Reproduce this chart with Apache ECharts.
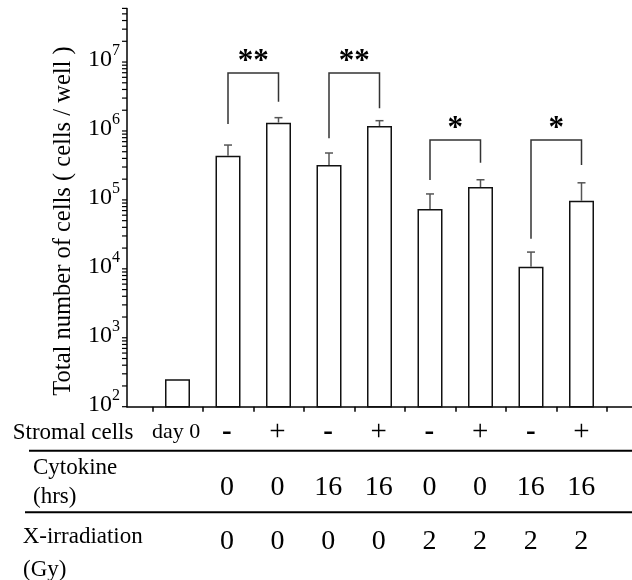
<!DOCTYPE html>
<html>
<head>
<meta charset="utf-8">
<script src="https://cdn.jsdelivr.net/npm/echarts@6/dist/echarts.min.js"></script>
<style>html,body{margin:0;padding:0;background:#fff}#c{width:632px;height:580px}</style>
</head>
<body>
<div id="c"></div>
<script>
// ---- data ----
const stromalCells   = ['day 0', '-', '+', '-', '+', '-', '+', '-', '+'];
const cytokineHrs    = ['', '0', '0', '16', '16', '0', '0', '16', '16'];
const xIrradiationGy = ['', '0', '0', '0', '0', '2', '2', '2', '2'];
const cellCounts     = [250, 4.38e5, 1.32e6, 3.2e5, 1.18e6, 7.38e4, 1.54e5, 1.07e4, 9.73e4];
const errorUpper     = [null, 6.25e5, 1.56e6, 4.79e5, 1.41e6, 1.22e5, 1.96e5, 1.75e4, 1.77e5];
const yTickLabels    = [1e2, 1e3, 1e4, 1e5, 1e6, 1e7];
const yMin = 100, yMax = 6e7;
const xMajorTicks    = [0.5, 1.5, 2.5, 3.5, 4.5, 5.5, 6.5, 7.5, 8.5, 9.5];
const xBarPositions  = [1, 2, 3, 4, 5, 6, 7, 8, 9];
// significance brackets
const bracketLeftBar     = [2, 4, 6, 8];
const bracketRightBar    = [3, 5, 7, 9];
const bracketLeftBottom  = [1.26e6, 7.82e5, 1.94e5, 2.74e4];
const bracketRightBottom = [2.66e6, 2.13e6, 3.46e5, 3.2e5];
const bracketTop         = [6.92e6, 6.92e6, 7.39e5, 7.39e5];
const bracketLabels      = ['**', '**', '*', '*'];

// ---- derived ----
const yMinorTicks = [];
for (let k = 2; k <= 7; k++) for (let m = 1; m <= 9; m++) {
  const v = m * Math.pow(10, k);
  if (v >= yMin && v <= yMax * 1.0001) yMinorTicks.push([0, v]);
}
const barData = cellCounts.map((v, i) => [xBarPositions[i], v]);
const errData = [];
errorUpper.forEach((e, i) => { if (e != null) errData.push([xBarPositions[i], cellCounts[i], e]); });
const bracketData = bracketLeftBar.map((l, i) => [l, bracketRightBar[i], bracketLeftBottom[i], bracketRightBottom[i], bracketTop[i], i]);

const SERIF = '"Liberation Serif","Times New Roman",serif';
const chart = echarts.init(document.getElementById('c'), null, {renderer: 'canvas'});

function tableAxis(labels, margin, rich) {
  return {
    gridIndex: 1, type: 'value', min: 0, max: 10, position: 'bottom', offset: 0,
    axisLine: {show: false}, axisTick: {show: false}, splitLine: {show: false},
    axisLabel: {
      customValues: xBarPositions, margin: margin, verticalAlign: 'middle',
      color: '#000', fontFamily: SERIF, fontSize: 28,
      formatter: function (v) {
        const s = labels[Math.round(v) - 1];
        if (!s) return '';
        if (rich) return s === 'day 0' ? '{d|day 0}' : (s === '-' ? '{m|-}' : '{p|' + s + '}');
        return s;
      },
      rich: rich || undefined
    }
  };
}

const option = {
  animation: false,
  backgroundColor: '#fff',
  grid: [
    {left: 127, top: 8.4, width: 508, height: 398.3, containLabel: false},
    {left: 125.6, top: 8.4, width: 517, height: 398.3, containLabel: false}
  ],
  xAxis: [
    {
      gridIndex: 0, type: 'value', min: 0, max: 10, position: 'bottom',
      axisLine: {lineStyle: {color: '#000', width: 1.5}},
      axisTick: {customValues: xMajorTicks, length: 5, lineStyle: {color: '#000', width: 1.5}},
      axisLabel: {show: false}, splitLine: {show: false}
    },
    {
      gridIndex: 0, type: 'value', min: 0, max: 10, position: 'bottom', offset: 0,
      axisLine: {show: false},
      axisTick: {customValues: xBarPositions, inside: true, length: 2, lineStyle: {color: '#777', width: 1}},
      axisLabel: {show: false}, splitLine: {show: false}
    },
    tableAxis(stromalCells, 26, {
      d: {fontFamily: SERIF, fontSize: 22, color: '#000'},
      p: {fontFamily: SERIF, fontSize: 29, color: '#000'},
      m: {fontFamily: SERIF, fontSize: 29, fontWeight: 'bold', color: '#000'}
    }),
    tableAxis(cytokineHrs, 80.6),
    tableAxis(xIrradiationGy, 135)
  ],
  yAxis: [
    {
      gridIndex: 0, type: 'log', logBase: 10, min: yMin, max: yMax,
      axisLine: {lineStyle: {color: '#000', width: 1.5}},
      axisTick: {show: false}, splitLine: {show: false}, minorTick: {show: false},
      axisLabel: {
        margin: 7, color: '#000', verticalAlign: 'middle', padding: [0, 0, 4, 0],
        formatter: function (v) {
          const e = Math.log10(v);
          if (Math.abs(e - Math.round(e)) > 1e-6) return '';
          if (yTickLabels.indexOf(Math.pow(10, Math.round(e))) < 0) return '';
          return '{a|10}{b|' + Math.round(e) + '}';
        },
        rich: {
          a: {fontFamily: SERIF, fontSize: 24, color: '#000', lineHeight: 24, verticalAlign: 'bottom'},
          b: {fontFamily: SERIF, fontSize: 16, color: '#000', lineHeight: 16, verticalAlign: 'bottom', padding: [0, 0, 13, 0]}
        }
      }
    },
    {gridIndex: 1, type: 'value', show: false, min: 0, max: 1}
  ],
  series: [
    {
      type: 'bar', xAxisIndex: 0, yAxisIndex: 0, data: barData, barWidth: 25,
      itemStyle: {color: '#fff', borderColor: '#111', borderWidth: 1.5}, z: 2
    },
    {
      type: 'custom', xAxisIndex: 0, yAxisIndex: 0, data: errData, z: 3,
      encode: {x: 0, y: [1, 2]},
      renderItem: function (params, api) {
        const x = api.value(0), v = api.value(1), e = api.value(2);
        const p0 = api.coord([x, v]), p1 = api.coord([x, e]);
        const st = {stroke: '#555', lineWidth: 1.5};
        return {type: 'group', children: [
          {type: 'line', shape: {x1: p0[0], y1: p0[1], x2: p1[0], y2: p1[1]}, style: st},
          {type: 'line', shape: {x1: p1[0] - 4, y1: p1[1], x2: p1[0] + 4, y2: p1[1]}, style: st}
        ]};
      }
    },
    {
      type: 'custom', xAxisIndex: 0, yAxisIndex: 0, data: bracketData, z: 3,
      encode: {x: [0, 1], y: [2, 3, 4]},
      renderItem: function (params, api) {
        const l = api.value(0), r = api.value(1), lb = api.value(2), rb = api.value(3), t = api.value(4);
        const idx = api.value(5);
        const a = api.coord([l, lb]), b = api.coord([l, t]), c = api.coord([r, t]), d = api.coord([r, rb]);
        return {type: 'group', children: [
          {type: 'polyline', shape: {points: [a, b, c, d]}, style: {stroke: '#333', lineWidth: 1.5, fill: null}},
          {type: 'text', x: (b[0] + c[0]) / 2, y: b[1] - 11,
           style: {text: bracketLabels[idx], font: 'bold 31px ' + SERIF, fill: '#000', align: 'center', verticalAlign: 'middle'}}
        ]};
      }
    },
    {
      type: 'custom', xAxisIndex: 0, yAxisIndex: 0, data: yMinorTicks, z: 3, silent: true,
      encode: {x: 0, y: 1},
      renderItem: function (params, api) {
        const p = api.coord([api.value(0), api.value(1)]);
        return {type: 'line', shape: {x1: p[0] - 5, y1: p[1], x2: p[0], y2: p[1]}, style: {stroke: '#000', lineWidth: 1.2}};
      }
    }
  ],
  graphic: [
    {type: 'text', x: 64, y: 221, rotation: Math.PI / 2,
     style: {text: 'Total number of cells ( cells / well )', font: '24.5px ' + SERIF, fill: '#000', align: 'center', verticalAlign: 'middle'}},
    {type: 'text', x: 12.7, y: 433, style: {text: 'Stromal cells', font: '23px ' + SERIF, fill: '#000', align: 'left', verticalAlign: 'middle'}},
    {type: 'line', shape: {x1: 29, y1: 450.7, x2: 632, y2: 450.7}, style: {stroke: '#000', lineWidth: 2}},
    {type: 'text', x: 33, y: 468, style: {text: 'Cytokine', font: '23px ' + SERIF, fill: '#000', align: 'left', verticalAlign: 'middle'}},
    {type: 'text', x: 33, y: 497, style: {text: '(hrs)', font: '23px ' + SERIF, fill: '#000', align: 'left', verticalAlign: 'middle'}},
    {type: 'line', shape: {x1: 25, y1: 512.3, x2: 632, y2: 512.3}, style: {stroke: '#000', lineWidth: 2}},
    {type: 'text', x: 22.7, y: 537, style: {text: 'X-irradiation', font: '23px ' + SERIF, fill: '#000', align: 'left', verticalAlign: 'middle'}},
    {type: 'text', x: 23, y: 570, style: {text: '(Gy)', font: '23px ' + SERIF, fill: '#000', align: 'left', verticalAlign: 'middle'}}
  ]
};
chart.setOption(option);
</script>
</body>
</html>
